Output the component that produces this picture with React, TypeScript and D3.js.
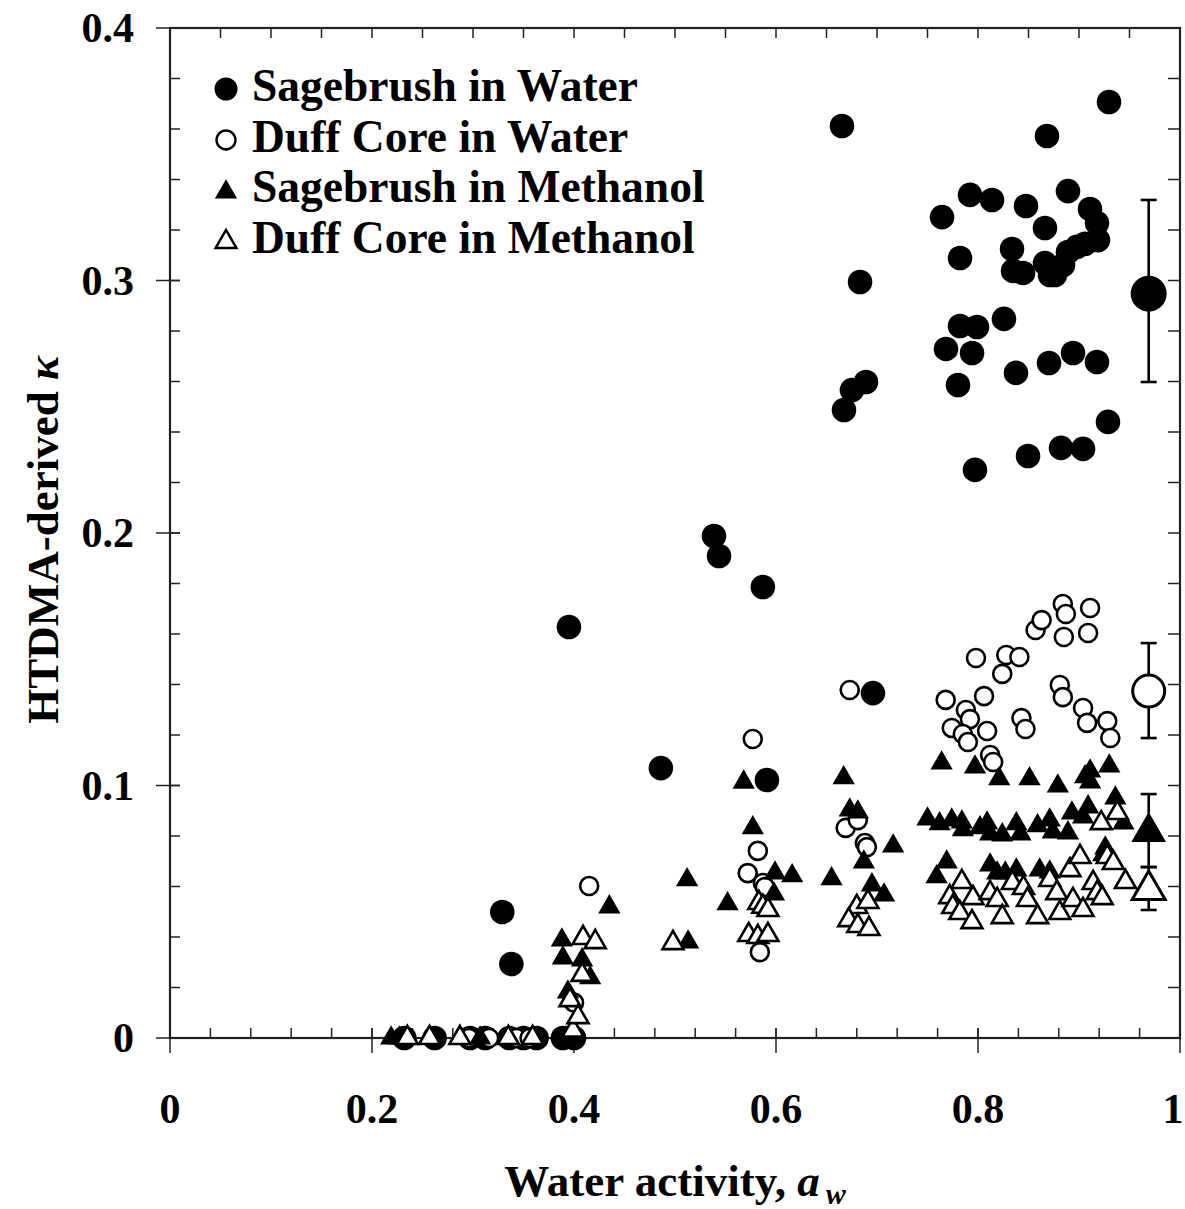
import React from "react";
import * as d3 from "d3";

// ---- data: [water activity, kappa] ----
const sageWater: [number, number][] = [
  [0.232, 0], [0.262, 0], [0.297, 0], [0.312, 0], [0.336, 0], [0.35, 0], [0.363, 0], [0.389, 0], [0.4, 0],
  [0.329, 0.0499], [0.338, 0.0293], [0.395, 0.1628], [0.486, 0.1069], [0.5386, 0.1988], [0.5436, 0.1909],
  [0.587, 0.1786], [0.591, 0.1022], [0.696, 0.1366],
  [0.6653, 0.3612], [0.8683, 0.3572], [0.9297, 0.3707], [0.7921, 0.3339], [0.8139, 0.3319], [0.7644, 0.3251],
  [0.8475, 0.3295], [0.8891, 0.3354], [0.9109, 0.3283], [0.8663, 0.3208], [0.9178, 0.3228], [0.9188, 0.316],
  [0.7822, 0.3089], [0.8337, 0.3125], [0.898, 0.3133], [0.8891, 0.3113], [0.906, 0.3145], [0.8347, 0.3038],
  [0.8446, 0.303], [0.8663, 0.3069], [0.8713, 0.3022], [0.8762, 0.3022], [0.8842, 0.3061], [0.6832, 0.2994],
  [0.7822, 0.282], [0.799, 0.2816], [0.8257, 0.2848], [0.7683, 0.2729], [0.7941, 0.2713], [0.7802, 0.2586],
  [0.8376, 0.2634], [0.8703, 0.2673], [0.8941, 0.2713], [0.9178, 0.2677], [0.6891, 0.2598], [0.6752, 0.2566],
  [0.6673, 0.2487], [0.797, 0.225], [0.8495, 0.2305], [0.8822, 0.2337], [0.904, 0.2333], [0.9287, 0.244],
];

const duffWater: [number, number][] = [
  [0.296, 0], [0.316, 0], [0.343, 0], [0.356, 0],
  [0.4, 0.014], [0.415, 0.0602], [0.572, 0.0653], [0.577, 0.1184], [0.582, 0.0741], [0.584, 0.034],
  [0.587, 0.0614], [0.589, 0.0598], [0.669, 0.0832], [0.673, 0.1378], [0.681, 0.0863], [0.688, 0.0772],
  [0.69, 0.0756], [0.768, 0.1339], [0.788, 0.1299], [0.792, 0.1263], [0.806, 0.1354], [0.774, 0.1228],
  [0.785, 0.1204], [0.79, 0.1172], [0.809, 0.1216], [0.798, 0.1505], [0.828, 0.1517], [0.841, 0.1509],
  [0.824, 0.1442], [0.857, 0.1616], [0.863, 0.1655], [0.884, 0.1719], [0.887, 0.1679], [0.911, 0.1703],
  [0.885, 0.1588], [0.909, 0.1604], [0.843, 0.1267], [0.847, 0.1224], [0.881, 0.1398], [0.884, 0.135],
  [0.904, 0.1307], [0.908, 0.1248], [0.928, 0.1255], [0.931, 0.1188], [0.812, 0.1121], [0.815, 0.1093],
];

const sageMeth: [number, number][] = [
  [0.219, 0], [0.227, 0], [0.307, 0], [0.392, 0],
  [0.388, 0.0388], [0.389, 0.0317], [0.408, 0.0309], [0.416, 0.0238], [0.394, 0.0182], [0.435, 0.0519],
  [0.512, 0.0626], [0.513, 0.038], [0.552, 0.0531], [0.568, 0.1013], [0.577, 0.0832], [0.599, 0.0653],
  [0.598, 0.057], [0.616, 0.0642], [0.655, 0.063], [0.667, 0.103], [0.673, 0.0903], [0.681, 0.0895],
  [0.687, 0.0697], [0.695, 0.0606], [0.707, 0.0566], [0.716, 0.076],
  [0.764, 0.1089], [0.797, 0.1073], [0.821, 0.1026], [0.851, 0.1026], [0.879, 0.0998], [0.906, 0.1034],
  [0.911, 0.1014], [0.93, 0.1077], [0.911, 0.1057], [0.936, 0.095], [0.909, 0.0915],
  [0.75, 0.0867], [0.762, 0.0848], [0.774, 0.0863], [0.784, 0.0855], [0.785, 0.0824], [0.802, 0.0832],
  [0.809, 0.0851], [0.812, 0.0808], [0.824, 0.0804], [0.838, 0.0848], [0.842, 0.0808], [0.859, 0.084],
  [0.871, 0.0863], [0.874, 0.0816], [0.889, 0.0812], [0.893, 0.0891], [0.904, 0.0875], [0.944, 0.0851],
  [0.769, 0.0697], [0.759, 0.0638], [0.812, 0.0685], [0.819, 0.0653], [0.827, 0.0653], [0.838, 0.0665],
  [0.861, 0.0665], [0.871, 0.0657], [0.926, 0.0752], [0.924, 0.0725],
];

const duffMeth: [number, number][] = [
  [0.235, 0], [0.257, 0], [0.287, 0], [0.335, 0], [0.359, 0], [0.399, 0.003],
  [0.409, 0.0396], [0.421, 0.038], [0.408, 0.025], [0.396, 0.015], [0.404, 0.0083],
  [0.498, 0.0376], [0.573, 0.0408], [0.582, 0.04], [0.592, 0.0408], [0.583, 0.0535], [0.587, 0.052],
  [0.592, 0.0507], [0.68, 0.0519], [0.691, 0.0539], [0.672, 0.0467], [0.681, 0.0444], [0.692, 0.0432],
  [0.784, 0.0618], [0.772, 0.0558], [0.775, 0.0519], [0.782, 0.0495], [0.794, 0.0459], [0.795, 0.0554],
  [0.812, 0.0574], [0.819, 0.0547], [0.824, 0.0479], [0.834, 0.0614], [0.845, 0.0594], [0.849, 0.0547],
  [0.859, 0.0479], [0.871, 0.0626], [0.878, 0.0574], [0.881, 0.0495], [0.891, 0.0665], [0.894, 0.0547],
  [0.901, 0.0717], [0.904, 0.0507], [0.914, 0.0614], [0.918, 0.0574], [0.923, 0.0554], [0.928, 0.0717],
  [0.934, 0.0693], [0.922, 0.0851], [0.938, 0.0891], [0.946, 0.0618],
];

// mean values with error bars: [mean, low, high] at aw = meanAw
const meanAw = 0.969;
const meanSageWater = [0.2948, 0.2598, 0.3319];
const meanDuffWater = [0.1374, 0.1188, 0.1564];
const meanSageMeth = [0.0816, 0.0677, 0.0966];
const meanDuffMeth = [0.0586, 0.0507, 0.0677];

const legendLabels = [
  "Sagebrush in Water",
  "Duff Core in Water",
  "Sagebrush in Methanol",
  "Duff Core in Methanol",
];
const xTickLabels = ["0", "0.2", "0.4", "0.6", "0.8", "1"];
const yTickLabels = ["0", "0.1", "0.2", "0.3", "0.4"];

const FONT = "'Liberation Serif', 'Times New Roman', serif";

export default function App() {
  const W = 1185, H = 1209;
  const x = d3.scaleLinear().domain([0, 1]).range([170, 1180]);
  const y = d3.scaleLinear().domain([0, 0.4]).range([1038, 28]);

  const triSmall = d3.symbol().type(d3.symbolTriangle).size(215)()!;
  const triOpen = d3.symbol().type(d3.symbolTriangle).size(190)()!;
  const triBig = d3.symbol().type(d3.symbolTriangle).size(520)()!;
  const triBigOpen = d3.symbol().type(d3.symbolTriangle).size(470)()!;

  const yMinor = d3.range(0, 0.4001, 0.02);
  const yMajor = d3.range(0, 0.4001, 0.1);
  const xMinorBottom = d3.range(0, 1.0001, 0.04);
  const xMajor = d3.range(0, 1.0001, 0.2);
  const xTop = d3.range(0, 1.0001, 0.05);

  const axisColor = "#222";

  const errBar = (m: number[], key: string) => (
    <g key={key} stroke="#000" strokeWidth={2.6}>
      <line x1={x(meanAw)} x2={x(meanAw)} y1={y(m[1])} y2={y(m[2])} />
      <line x1={x(meanAw) - 8} x2={x(meanAw) + 8} y1={y(m[1])} y2={y(m[1])} />
      <line x1={x(meanAw) - 8} x2={x(meanAw) + 8} y1={y(m[2])} y2={y(m[2])} />
    </g>
  );

  return (
    <svg
      width={W}
      height={H}
      style={{ position: "absolute", left: 0, top: 0, background: "#fff" }}
      fontFamily={FONT}
    >
      <rect x={0} y={0} width={W} height={H} fill="#fff" />

      {/* frame */}
      <g stroke={axisColor} strokeWidth={2.2} fill="none">
        <rect x={x(0)} y={y(0.4)} width={x(1) - x(0)} height={y(0) - y(0.4)} />
      </g>

      {/* ticks */}
      <g stroke={axisColor} strokeWidth={1.5}>
        {yMinor.map((v, i) => (
          <line key={"ylm" + i} x1={x(0)} x2={x(0) + 10} y1={y(v)} y2={y(v)} />
        ))}
        {yMajor.map((v, i) => (
          <line key={"ylM" + i} x1={x(0) - 14} x2={x(0) + 10} y1={y(v)} y2={y(v)} />
        ))}
        {yMinor.map((v, i) => (
          <line key={"yr" + i} x1={x(1) - 12} x2={x(1)} y1={y(v)} y2={y(v)} />
        ))}
        {xMinorBottom.map((v, i) => (
          <line key={"xbm" + i} x1={x(v)} x2={x(v)} y1={y(0) - 10} y2={y(0)} />
        ))}
        {xMajor.map((v, i) => (
          <line key={"xbM" + i} x1={x(v)} x2={x(v)} y1={y(0) - 10} y2={y(0) + 15} />
        ))}
        {xTop.map((v, i) => (
          <line key={"xt" + i} x1={x(v)} x2={x(v)} y1={y(0.4)} y2={y(0.4) + 10} />
        ))}
      </g>

      {/* tick labels */}
      <g fontSize={42} fontWeight="bold" fill="#000">
        {yTickLabels.map((t, i) => (
          <text key={"yl" + i} x={134} y={y(yMajor[i])} textAnchor="end" dominantBaseline="central">
            {t}
          </text>
        ))}
        {xTickLabels.map((t, i) => (
          <text key={"xl" + i} x={Math.min(x(xMajor[i]), 1173)} y={1123} textAnchor="middle">
            {t}
          </text>
        ))}
      </g>

      {/* axis titles */}
      <text x={675} y={1196} textAnchor="middle" fontSize={45} fontWeight="bold">
        Water activity,{" "}
        <tspan fontStyle="italic">a</tspan>
        <tspan fontStyle="italic" fontSize={30} dx={6} dy={8}>w</tspan>
      </text>
      <text
        transform={`translate(58, 540) rotate(-90)`}
        textAnchor="middle"
        fontSize={45}
        fontWeight="bold"
      >
        HTDMA-derived <tspan fontStyle="italic">κ</tspan>
      </text>

      {/* data: sagebrush in water */}
      <g fill="#000">
        {sageWater.map((d, i) => (
          <circle key={"sw" + i} cx={x(d[0])} cy={y(d[1])} r={12.3} />
        ))}
      </g>
      {/* duff core in water */}
      <g fill="#fff" stroke="#000" strokeWidth={2.6}>
        {duffWater.map((d, i) => (
          <circle key={"dw" + i} cx={x(d[0])} cy={y(d[1])} r={9} />
        ))}
      </g>
      {/* sagebrush in methanol */}
      <g fill="#000">
        {sageMeth.map((d, i) => (
          <path key={"sm" + i} d={triSmall} transform={`translate(${x(d[0])},${y(d[1])})`} />
        ))}
      </g>
      {/* duff core in methanol */}
      <g fill="#fff" stroke="#000" strokeWidth={2.6}>
        {duffMeth.map((d, i) => (
          <path key={"dm" + i} d={triOpen} transform={`translate(${x(d[0])},${y(d[1])})`} />
        ))}
      </g>

      {/* mean points with error bars */}
      {errBar(meanSageWater, "e1")}
      {errBar(meanDuffWater, "e2")}
      {errBar(meanSageMeth, "e3")}
      {errBar(meanDuffMeth, "e4")}
      <circle cx={x(meanAw)} cy={y(meanSageWater[0])} r={18} fill="#000" />
      <circle cx={x(meanAw)} cy={y(meanDuffWater[0])} r={16} fill="#fff" stroke="#000" strokeWidth={3} />
      <path d={triBig} transform={`translate(${x(meanAw)},${y(meanSageMeth[0])})`} fill="#000" />
      <path
        d={triBigOpen}
        transform={`translate(${x(meanAw)},${y(meanDuffMeth[0])})`}
        fill="#fff"
        stroke="#000"
        strokeWidth={3}
      />

      {/* legend */}
      <g>
        <circle cx={226} cy={89} r={11.5} fill="#000" />
        <circle cx={226} cy={140} r={9.5} fill="#fff" stroke="#000" strokeWidth={2.4} />
        <path d={triSmall} transform="translate(226,192)" fill="#000" />
        <path d={triOpen} transform="translate(226,242)" fill="#fff" stroke="#000" strokeWidth={2.4} />
        {legendLabels.map((l, i) => (
          <text key={"lg" + i} x={252} y={101 + i * 50.5} fontSize={45.5} fontWeight="bold">
            {l}
          </text>
        ))}
      </g>
    </svg>
  );
}
